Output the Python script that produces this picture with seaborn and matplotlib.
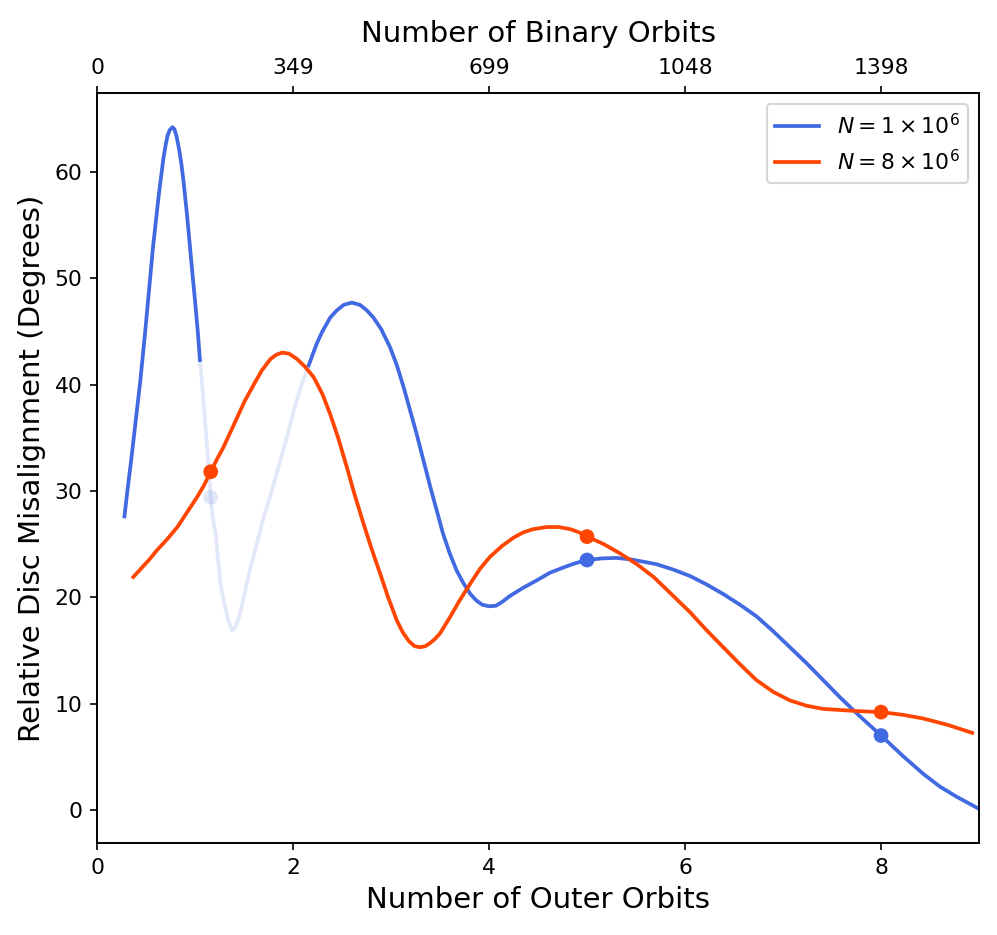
import matplotlib
matplotlib.use("Agg")
import matplotlib.pyplot as plt
import numpy as np
import seaborn as sns

# Blue run, N = 1e6
blue_x = [0.28, 0.31, 0.35, 0.40, 0.44, 0.49, 0.54, 0.57, 0.60, 0.63, 0.66, 0.68,
          0.70, 0.72, 0.74, 0.77, 0.79, 0.81, 0.84, 0.86, 0.88, 0.90, 0.92, 0.94,
          0.96, 0.98, 1.00, 1.03, 1.05,
          1.07, 1.09, 1.11, 1.13, 1.16, 1.18, 1.21, 1.23, 1.26, 1.30, 1.34, 1.38,
          1.42, 1.46, 1.51, 1.56, 1.63, 1.70, 1.78, 1.85, 1.93, 2.00, 2.08, 2.16,
          2.24, 2.30, 2.38, 2.45, 2.52, 2.60, 2.68, 2.75, 2.82, 2.90, 2.99, 3.06,
          3.13, 3.26, 3.40, 3.53, 3.60, 3.67, 3.74, 3.81, 3.87, 3.93, 4.00, 4.07,
          4.14, 4.21, 4.35, 4.49, 4.62, 4.76, 4.88, 5.00, 5.15, 5.30, 5.45, 5.60,
          5.71, 5.88, 6.05, 6.22, 6.39, 6.56, 6.73, 6.90, 7.07, 7.24, 7.41, 7.58,
          7.75, 7.88, 8.00, 8.22, 8.43, 8.60, 8.77, 8.90, 9.00]
blue_y = [27.6, 30.0, 33.0, 37.0, 40.2, 44.8, 49.8, 52.8, 55.3, 57.8, 60.0, 61.4,
          62.5, 63.4, 63.9, 64.2, 64.0, 63.4, 62.0, 60.8, 59.3, 57.6, 55.8, 53.8,
          51.8, 49.8, 47.9, 44.8, 42.3,
          40.3, 38.0, 35.6, 33.3, 29.5, 27.6, 26.0, 24.0, 21.3, 19.4, 17.8, 16.9,
          17.3, 18.5, 20.5, 22.6, 25.0, 27.5, 29.9, 32.2, 34.8, 37.3, 39.8, 41.8,
          43.8, 45.0, 46.3, 47.0, 47.5, 47.7, 47.5, 47.0, 46.3, 45.2, 43.5, 41.8,
          39.7, 35.4, 30.4, 26.0, 24.1, 22.5, 21.3, 20.3, 19.7, 19.3, 19.15, 19.2,
          19.6, 20.1, 20.9, 21.6, 22.3, 22.8, 23.2, 23.5, 23.65, 23.7, 23.55, 23.3,
          23.1, 22.6, 22.0, 21.2, 20.3, 19.3, 18.2, 16.8, 15.3, 13.8, 12.2, 10.6,
          9.1, 8.0, 7.0, 5.1, 3.4, 2.2, 1.25, 0.6, 0.1]
blue_fade = (1.05, 2.16)

# Orange run, N = 8e6
orange_x = [0.37, 0.45, 0.53, 0.61, 0.72, 0.82, 0.92, 1.02, 1.09, 1.16, 1.22, 1.29,
            1.36, 1.43, 1.51, 1.60, 1.68, 1.77, 1.83, 1.89, 1.96, 2.04, 2.12, 2.21,
            2.30, 2.38, 2.46, 2.55, 2.63, 2.72, 2.80, 2.89, 2.97, 3.06, 3.12, 3.18,
            3.24, 3.30, 3.35, 3.40, 3.45, 3.50, 3.60, 3.70, 3.81, 3.91, 4.01, 4.13,
            4.25, 4.35, 4.45, 4.59, 4.71, 4.83, 4.92, 5.00, 5.17, 5.34, 5.51, 5.68,
            5.86, 6.05, 6.22, 6.39, 6.56, 6.73, 6.90, 7.07, 7.24, 7.41, 7.58, 7.75,
            8.00, 8.22, 8.43, 8.68, 8.93]
orange_y = [21.9, 22.7, 23.5, 24.4, 25.5, 26.6, 28.0, 29.4, 30.5, 31.8, 32.9, 34.1,
            35.5, 36.9, 38.5, 40.0, 41.3, 42.4, 42.8, 43.0, 42.9, 42.4, 41.7, 40.7,
            39.1, 37.2, 35.0, 32.2, 29.6, 26.9, 24.6, 22.2, 20.0, 17.8, 16.7, 15.9,
            15.4, 15.3, 15.4, 15.7, 16.1, 16.6, 18.1, 19.7, 21.3, 22.7, 23.8, 24.8,
            25.6, 26.1, 26.4, 26.6, 26.6, 26.4, 26.1, 25.7, 25.0, 24.1, 23.1, 21.9,
            20.3, 18.6, 16.9, 15.3, 13.7, 12.2, 11.1, 10.3, 9.8, 9.5, 9.4, 9.3,
            9.2, 8.95, 8.6, 8.0, 7.25]

# snapshot markers
blue_dot_x = [5.0, 8.0]
blue_dot_y = [23.5, 7.0]
blue_fade_dot_x = [1.16]
blue_fade_dot_y = [29.4]
orange_dot_x = [1.16, 5.0, 8.0]
orange_dot_y = [31.8, 25.7, 9.2]

bottom_ticks = [0, 2, 4, 6, 8]
top_labels = ["0", "349", "699", "1048", "1398"]

blue = "royalblue"
orange = "orangered"

fig = plt.figure(figsize=(997 / 150, 935 / 150), dpi=150)
ax = fig.add_axes([0.0973, 0.0984, 0.8847, 0.8021])

bx = np.array(blue_x)
by = np.array(blue_y)
m1 = bx <= blue_fade[0]
m2 = (bx >= blue_fade[0]) & (bx <= blue_fade[1])
m3 = bx >= blue_fade[1]

sns.lineplot(x=bx[m1], y=by[m1], color=blue, lw=1.8, ax=ax, label=r"$N = 1 \times 10^6$")
sns.lineplot(x=bx[m2], y=by[m2], color=blue, lw=1.8, alpha=0.15, ax=ax)
sns.lineplot(x=bx[m3], y=by[m3], color=blue, lw=1.8, ax=ax)
sns.lineplot(x=orange_x, y=orange_y, color=orange, lw=1.8, ax=ax, label=r"$N = 8 \times 10^6$")

sns.scatterplot(x=blue_fade_dot_x, y=blue_fade_dot_y, color=blue, alpha=0.15, s=50,
                edgecolor="none", ax=ax, zorder=3)
sns.scatterplot(x=blue_dot_x, y=blue_dot_y, color=blue, s=50, edgecolor="none", ax=ax, zorder=3)
sns.scatterplot(x=orange_dot_x, y=orange_dot_y, color=orange, s=50, edgecolor="none", ax=ax, zorder=3)

ax.set_xlim(0, 9)
ax.set_xticks(bottom_ticks)
ax.set_xlabel("Number of Outer Orbits", fontsize=14)
ax.set_ylabel("Relative Disc Misalignment (Degrees)", fontsize=14)
ax.tick_params(labelsize=10.5)
ax.legend(loc="upper right", fontsize=10.5)

top = ax.twiny()
top.set_xlim(ax.get_xlim())
top.set_xticks(bottom_ticks)
top.set_xticklabels(top_labels)
top.tick_params(labelsize=10.5)
top.set_xlabel("Number of Binary Orbits", fontsize=14, labelpad=8)

fig.savefig("out.png", dpi=150)
